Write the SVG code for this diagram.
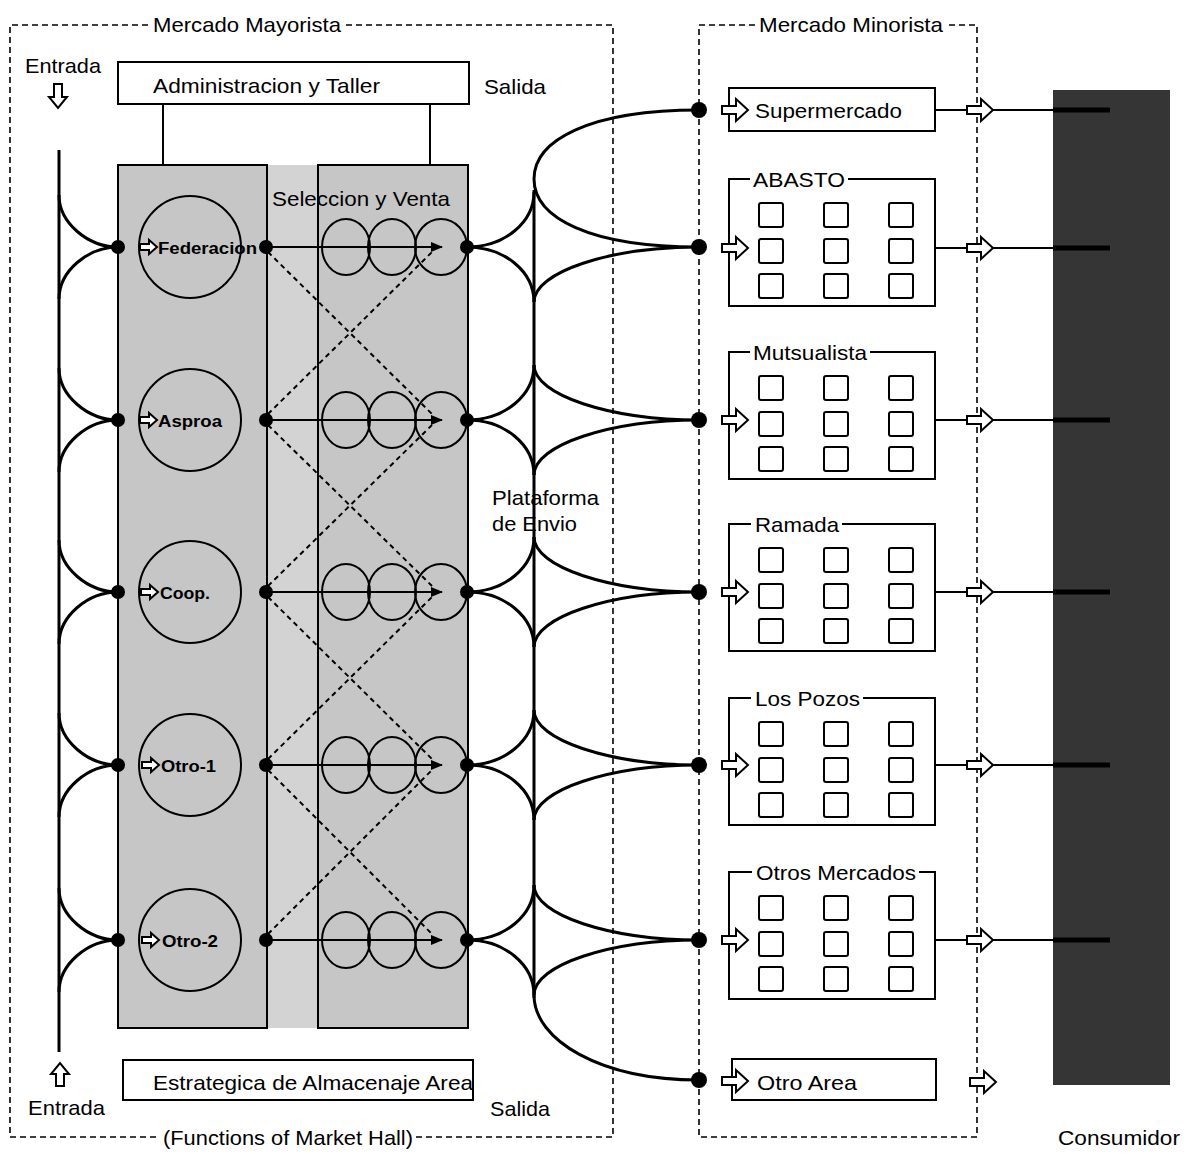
<svg xmlns="http://www.w3.org/2000/svg" xmlns:xlink="http://www.w3.org/1999/xlink" width="1189" height="1154" viewBox="0 0 1189 1154">
<style>
.t{font-family:"Liberation Sans",Arial,Helvetica,sans-serif;font-size:21px;fill:#000}
.ts{font-family:"Liberation Sans",Arial,Helvetica,sans-serif;font-size:16px;fill:#000;font-weight:bold}
.dash{fill:none;stroke:#000;stroke-width:1.6;stroke-dasharray:6 4}
.box{fill:#fff;stroke:#000;stroke-width:2}
.frame{fill:none;stroke:#000;stroke-width:2}
.crv{fill:none;stroke:#000;stroke-width:3}
.ln{fill:none;stroke:#000;stroke-width:2}
.dd{fill:none;stroke:#000;stroke-width:2;stroke-dasharray:5 4}
.dot{fill:#000}
.ha{fill:#fff;stroke:#000;stroke-width:2;stroke-linejoin:miter}
.sq{fill:#fff;stroke:#000;stroke-width:2}
.cir{fill:none;stroke:#000;stroke-width:2}
</style>
<defs>
<path id="harr" class="ha" d="M0,-4 H14 V-11 L26,0 L14,11 V4 H0 Z"/>
<path id="harrs" class="ha" d="M0,-3 H9 V-7 L17,0 L9,7 V3 H0 Z"/>
<marker id="ah" markerUnits="userSpaceOnUse" markerWidth="12" markerHeight="12" refX="11" refY="6" orient="auto">
<path d="M0,1 L12,6 L0,11 Z" fill="#000"/>
</marker>
<g id="grid">
<rect class="sq" x="30" y="24" width="24" height="24" rx="2"/>
<rect class="sq" x="95" y="24" width="24" height="24" rx="2"/>
<rect class="sq" x="160" y="24" width="24" height="24" rx="2"/>
<rect class="sq" x="30" y="60" width="24" height="24" rx="2"/>
<rect class="sq" x="95" y="60" width="24" height="24" rx="2"/>
<rect class="sq" x="160" y="60" width="24" height="24" rx="2"/>
<rect class="sq" x="30" y="95" width="24" height="24" rx="2"/>
<rect class="sq" x="95" y="95" width="24" height="24" rx="2"/>
<rect class="sq" x="160" y="95" width="24" height="24" rx="2"/>
</g>
</defs>
<rect width="1189" height="1154" fill="#fff"/>

<!-- frames -->
<g id="mercado-mayorista">
<path class="dash" d="M148,25 H10 V1137 H160 M416,1137 H613 V25 H346"/>
<text class="t" x="153" y="32" textLength="188" lengthAdjust="spacingAndGlyphs">Mercado Mayorista</text>
<text class="t" x="163" y="1145" textLength="250" lengthAdjust="spacingAndGlyphs">(Functions of Market Hall)</text>
</g>
<g id="mercado-minorista">
<path class="dash" d="M755,25 H699 V1137 H977 V25 H946"/>
<text class="t" x="759" y="32" textLength="184" lengthAdjust="spacingAndGlyphs">Mercado Minorista</text>
</g>

<!-- labels -->
<g id="entrada-top">
<text class="t" x="25" y="73" textLength="76" lengthAdjust="spacingAndGlyphs">Entrada</text>
<path class="ha" d="M54,84 V97 H49 L58,108 L67,97 H62 V84 Z"/>
</g>
<g id="entrada-bottom">
<path class="ha" d="M56,1086 V1074 H51 L60,1063 L69,1074 H64 V1086 Z"/>
<text class="t" x="28" y="1115" textLength="77" lengthAdjust="spacingAndGlyphs">Entrada</text>
</g>
<g id="salida-top"><text class="t" x="484" y="94" textLength="62" lengthAdjust="spacingAndGlyphs">Salida</text></g>
<g id="salida-bottom"><text class="t" x="490" y="1116" textLength="60" lengthAdjust="spacingAndGlyphs">Salida</text></g>
<g id="plataforma">
<text class="t" x="492" y="505" textLength="107" lengthAdjust="spacingAndGlyphs">Plataforma</text>
<text class="t" x="492" y="531" textLength="85" lengthAdjust="spacingAndGlyphs">de Envio</text>
</g>

<!-- admin -->
<g id="administracion">
<rect class="box" x="118" y="62" width="351" height="42"/>
<text class="t" x="153" y="93" textLength="227" lengthAdjust="spacingAndGlyphs">Administracion y Taller</text>
<path class="ln" d="M163,104 V165 M430,104 V165"/>
</g>
<g id="almacenaje">
<rect class="box" x="123" y="1060" width="350" height="40"/>
<text class="t" x="153" y="1090" textLength="320" lengthAdjust="spacingAndGlyphs">Estrategica de Almacenaje Area</text>
</g>

<!-- shaded hall -->
<g id="hall">
<rect x="267" y="165" width="51" height="863" fill="#d3d3d3"/>
<rect x="118" y="165" width="149" height="863" fill="#c6c6c6" stroke="#000" stroke-width="2"/>
<rect x="318" y="165" width="150" height="863" fill="#c6c6c6" stroke="#000" stroke-width="2"/>
<text class="t" x="272" y="206" textLength="178" lengthAdjust="spacingAndGlyphs" font-size="20">Seleccion y Venta</text>
</g>

<!-- wholesaler rows -->
<g id="federacion">
<circle class="cir" cx="190" cy="247" r="51"/>
<use href="#harrs" x="140" y="247"/>
<text class="ts" x="158" y="254" textLength="99" lengthAdjust="spacingAndGlyphs">Federacion</text>
</g>
<g id="asproa">
<circle class="cir" cx="190" cy="420" r="51"/>
<use href="#harrs" x="140" y="420"/>
<text class="ts" x="158" y="427" textLength="64" lengthAdjust="spacingAndGlyphs">Asproa</text>
</g>
<g id="coop">
<circle class="cir" cx="190" cy="592" r="51"/>
<use href="#harrs" x="141" y="592"/>
<text class="ts" x="160" y="599" textLength="50" lengthAdjust="spacingAndGlyphs">Coop.</text>
</g>
<g id="otro-1">
<circle class="cir" cx="190" cy="765" r="51"/>
<use href="#harrs" x="142" y="765"/>
<text class="ts" x="161" y="772" textLength="55" lengthAdjust="spacingAndGlyphs">Otro-1</text>
</g>
<g id="otro-2">
<circle class="cir" cx="190" cy="940" r="51"/>
<use href="#harrs" x="142" y="940"/>
<text class="ts" x="162" y="947" textLength="56" lengthAdjust="spacingAndGlyphs">Otro-2</text>
</g>

<g id="venta-stalls">
<ellipse class="cir" cx="346" cy="247" rx="24" ry="28"/><ellipse class="cir" cx="392" cy="247" rx="24" ry="28"/><ellipse class="cir" cx="441" cy="247" rx="26" ry="28"/>
<ellipse class="cir" cx="346" cy="420" rx="24" ry="28"/><ellipse class="cir" cx="392" cy="420" rx="24" ry="28"/><ellipse class="cir" cx="441" cy="420" rx="26" ry="28"/>
<ellipse class="cir" cx="346" cy="592" rx="24" ry="28"/><ellipse class="cir" cx="392" cy="592" rx="24" ry="28"/><ellipse class="cir" cx="441" cy="592" rx="26" ry="28"/>
<ellipse class="cir" cx="346" cy="765" rx="24" ry="28"/><ellipse class="cir" cx="392" cy="765" rx="24" ry="28"/><ellipse class="cir" cx="441" cy="765" rx="26" ry="28"/>
<ellipse class="cir" cx="346" cy="940" rx="24" ry="28"/><ellipse class="cir" cx="392" cy="940" rx="24" ry="28"/><ellipse class="cir" cx="441" cy="940" rx="26" ry="28"/>
</g>

<!-- retail boxes -->
<g id="supermercado">
<rect class="box" x="729" y="88" width="206" height="43"/>
<use href="#harr" x="722" y="110"/>
<text class="t" x="755" y="118" textLength="147" lengthAdjust="spacingAndGlyphs">Supermercado</text>
</g>
<g id="abasto">
<path class="frame" d="M750,179 H729 V306 H935 V179 H848"/>
<text class="t" x="753" y="187" textLength="92" lengthAdjust="spacingAndGlyphs">ABASTO</text>
<use href="#grid" x="729" y="179"/>
<use href="#harr" x="722" y="248"/>
</g>
<g id="mutsualista">
<path class="frame" d="M750,352 H729 V479 H935 V352 H870"/>
<text class="t" x="753" y="360" textLength="114" lengthAdjust="spacingAndGlyphs">Mutsualista</text>
<use href="#grid" x="729" y="352"/>
<use href="#harr" x="722" y="420"/>
</g>
<g id="ramada">
<path class="frame" d="M751,524 H729 V651 H935 V524 H842"/>
<text class="t" x="755" y="532" textLength="84" lengthAdjust="spacingAndGlyphs">Ramada</text>
<use href="#grid" x="729" y="524"/>
<use href="#harr" x="722" y="592"/>
</g>
<g id="los-pozos">
<path class="frame" d="M751,698 H729 V825 H935 V698 H863"/>
<text class="t" x="755" y="706" textLength="105" lengthAdjust="spacingAndGlyphs">Los Pozos</text>
<use href="#grid" x="729" y="698"/>
<use href="#harr" x="722" y="765"/>
</g>
<g id="otros-mercados">
<path class="frame" d="M752,872 H729 V999 H935 V872 H919"/>
<text class="t" x="756" y="880" textLength="160" lengthAdjust="spacingAndGlyphs">Otros Mercados</text>
<use href="#grid" x="729" y="872"/>
<use href="#harr" x="722" y="940"/>
</g>
<g id="otro-area">
<rect class="box" x="732" y="1059" width="204" height="41"/>
<use href="#harr" x="722" y="1081"/>
<text class="t" x="757" y="1090" textLength="100" lengthAdjust="spacingAndGlyphs">Otro Area</text>
</g>

<g id="consumidor">
<rect x="1053" y="90" width="117" height="995" fill="#353535"/>
<text class="t" x="1058" y="1145" textLength="122" lengthAdjust="spacingAndGlyphs">Consumidor</text>
</g>

<!-- connectors -->
<g id="connectors">
<!-- entrance side -->
<path class="crv" d="M59,150 V1052"/>
<path class="crv" d="M118,247 C88,247 59,223 59,195 M118,247 C88,247 59,271 59,299
M118,420 C88,420 59,396 59,368 M118,420 C88,420 59,444 59,472
M118,592 C88,592 59,568 59,540 M118,592 C88,592 59,616 59,644
M118,765 C88,765 59,741 59,713 M118,765 C88,765 59,789 59,817
M118,940 C88,940 59,916 59,888 M118,940 C88,940 59,964 59,992"/>
<!-- shipping platform -->
<path class="crv" d="M534,190 V998"/>
<path class="crv" d="M467,247 C505,247 534,222 534,192 M467,247 C505,247 534,272 534,302
M467,420 C505,420 534,395 534,365 M467,420 C505,420 534,445 534,475
M467,592 C505,592 534,567 534,537 M467,592 C505,592 534,617 534,647
M467,765 C505,765 534,740 534,710 M467,765 C505,765 534,790 534,820
M467,940 C505,940 534,915 534,885 M467,940 C505,940 534,965 534,995"/>
<path class="crv" d="M699,110 C590,110 534,140 534,179 C534,218 590,247 699,247
M534,302 C534,272 610,247 699,247
M534,365 C534,395 610,420 699,420 M534,475 C534,445 610,420 699,420
M534,537 C534,567 610,592 699,592 M534,647 C534,617 610,592 699,592
M534,710 C534,740 610,765 699,765 M534,820 C534,790 610,765 699,765
M534,885 C534,915 610,940 699,940 M534,995 C534,965 610,940 699,940
M534,995 C534,1040 600,1080 699,1080"/>
<!-- sales flow -->
<path class="ln" d="M266,247 H442" marker-end="url(#ah)"/>
<path class="ln" d="M266,420 H442" marker-end="url(#ah)"/>
<path class="ln" d="M266,592 H442" marker-end="url(#ah)"/>
<path class="ln" d="M266,765 H442" marker-end="url(#ah)"/>
<path class="ln" d="M266,940 H442" marker-end="url(#ah)"/>
<path class="dd" d="M268,252 L432,414 M268,414 L432,252
M268,425 L432,586 M268,586 L432,425
M268,597 L432,759 M268,759 L432,597
M268,770 L432,934 M268,934 L432,770"/>
<!-- dots -->
<g class="dot">
<circle cx="118" cy="247" r="7"/><circle cx="118" cy="420" r="7"/><circle cx="118" cy="592" r="7"/><circle cx="118" cy="765" r="7"/><circle cx="118" cy="940" r="7"/>
<circle cx="266" cy="247" r="7"/><circle cx="266" cy="420" r="7"/><circle cx="266" cy="592" r="7"/><circle cx="266" cy="765" r="7"/><circle cx="266" cy="940" r="7"/>
<circle cx="467" cy="247" r="7"/><circle cx="467" cy="420" r="7"/><circle cx="467" cy="592" r="7"/><circle cx="467" cy="765" r="7"/><circle cx="467" cy="940" r="7"/>
<circle cx="699" cy="110" r="8"/><circle cx="699" cy="247" r="8"/><circle cx="699" cy="420" r="8"/><circle cx="699" cy="592" r="8"/><circle cx="699" cy="765" r="8"/><circle cx="699" cy="940" r="8"/><circle cx="699" cy="1080" r="8"/>
</g>
<!-- to consumer -->
<path class="ln" d="M935,110 H967 M993,110 H1110 M935,248 H967 M993,248 H1110 M935,420 H967 M993,420 H1110 M935,592 H967 M993,592 H1110 M935,765 H967 M993,765 H1110 M935,940 H967 M993,940 H1110"/>
<path stroke="#000" stroke-width="5" d="M1053,110 H1110 M1053,248 H1110 M1053,420 H1110 M1053,592 H1110 M1053,765 H1110 M1053,940 H1110"/>
<use href="#harr" x="967" y="110"/>
<use href="#harr" x="967" y="248"/>
<use href="#harr" x="967" y="420"/>
<use href="#harr" x="967" y="592"/>
<use href="#harr" x="967" y="765"/>
<use href="#harr" x="967" y="940"/>
<use href="#harr" x="970" y="1082"/>
</g>
</svg>
